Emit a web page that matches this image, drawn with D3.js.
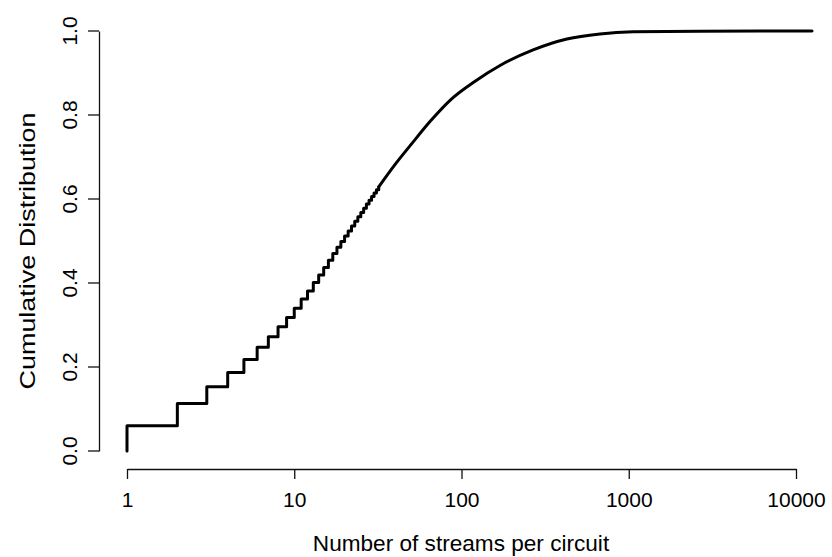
<!DOCTYPE html>
<html>
<head>
<meta charset="utf-8">
<script src="https://cdn.jsdelivr.net/npm/d3@7"></script>
<style>
  html, body { margin: 0; padding: 0; background: #fff; }
  svg { display: block; }
  text { font-family: "Liberation Sans", Arial, Helvetica, sans-serif; fill: #000; }
</style>
</head>
<body>
<svg id="chart" width="832" height="557"></svg>
<script>
// Empirical CDF of streams per circuit.
// Discrete part: one step per integer stream count.
const stepCounts = [1, 2, 3, 4, 5, 6, 7, 8, 9, 10, 11, 12, 13, 14, 15, 16, 17, 18, 19, 20,
                    21, 22, 23, 24, 25, 26, 27, 28, 29, 30, 31, 32];
const stepCdf    = [0.060, 0.113, 0.153, 0.187, 0.218, 0.247, 0.272, 0.296, 0.318, 0.340,
                    0.362, 0.381, 0.401, 0.419, 0.437, 0.454, 0.470, 0.485, 0.499, 0.512,
                    0.524, 0.536, 0.547, 0.558, 0.568, 0.578, 0.588, 0.597, 0.606, 0.614,
                    0.622, 0.629];
// Upper part, where the steps are too small to see.
const tailCounts = [32, 40, 50, 65, 87, 120, 170, 268, 427, 673, 1060, 2670, 12470];
const tailCdf    = [0.629, 0.682, 0.730, 0.785, 0.838, 0.880, 0.918, 0.955, 0.981, 0.993, 0.998, 0.9995, 1.0];

const xTicks = [1, 10, 100, 1000, 10000];
const yTicks = [0, 0.2, 0.4, 0.6, 0.8, 1.0];

const svg = d3.select("#chart");
const x = d3.scaleLog().domain([1, 10000]).range([127, 796]);
const y = d3.scaleLinear().domain([0, 1]).range([451, 31]);
const xAxisY = 469, yAxisX = 99;
const tickFont = 21, titleFont = 22.6;

// Axes
const xAxis = svg.append("g")
  .attr("transform", `translate(0,${xAxisY})`)
  .call(d3.axisBottom(x).tickValues(xTicks).tickFormat(d3.format("d"))
        .tickSize(10).tickSizeOuter(0));
xAxis.selectAll("text").attr("y", 38).attr("dy", null)
  .style("font-size", tickFont + "px");

const yAxis = svg.append("g")
  .attr("transform", `translate(${yAxisX},0)`)
  .call(d3.axisLeft(y).tickValues(yTicks).tickFormat(d3.format(".1f"))
        .tickSize(11).tickSizeOuter(0));
yAxis.selectAll("text")
  .attr("x", null).attr("dy", null).attr("y", null)
  .attr("text-anchor", "middle")
  .attr("transform", d => `translate(-22,${y(d)}) rotate(-90)`)
  .style("font-size", tickFont + "px");
yAxis.selectAll(".tick").attr("transform", null);
yAxis.selectAll(".tick line").attr("transform", d => `translate(0,${y(d)})`);

svg.selectAll(".domain, .tick line").attr("stroke", "#111").attr("stroke-width", 1.3);
svg.selectAll(".tick text").attr("fill", "#000");

// Axis titles
svg.append("text")
  .attr("x", 461).attr("y", 551)
  .attr("text-anchor", "middle")
  .style("font-size", titleFont + "px")
  .text("Number of streams per circuit");

svg.append("text")
  .attr("transform", `translate(35,251) rotate(-90)`)
  .attr("text-anchor", "middle")
  .attr("textLength", 277)
  .attr("lengthAdjust", "spacingAndGlyphs")
  .style("font-size", titleFont + "px")
  .text("Cumulative Distribution");

// CDF curve
const stepPts = [[1, 0]].concat(stepCounts.map((n, i) => [n, stepCdf[i]]));
const tailPts = tailCounts.map((n, i) => [n, tailCdf[i]]);

const stepLine = d3.line().x(d => x(d[0])).y(d => y(d[1])).curve(d3.curveStepAfter);
const tailLine = d3.line().x(d => x(d[0])).y(d => y(d[1])).curve(d3.curveMonotoneX);

const curve = svg.append("g")
  .attr("fill", "none").attr("stroke", "#000").attr("stroke-width", 3)
  .attr("stroke-linejoin", "round").attr("stroke-linecap", "round");
curve.append("path").attr("d", stepLine(stepPts));
curve.append("path").attr("d", tailLine(tailPts));
</script>
</body>
</html>
